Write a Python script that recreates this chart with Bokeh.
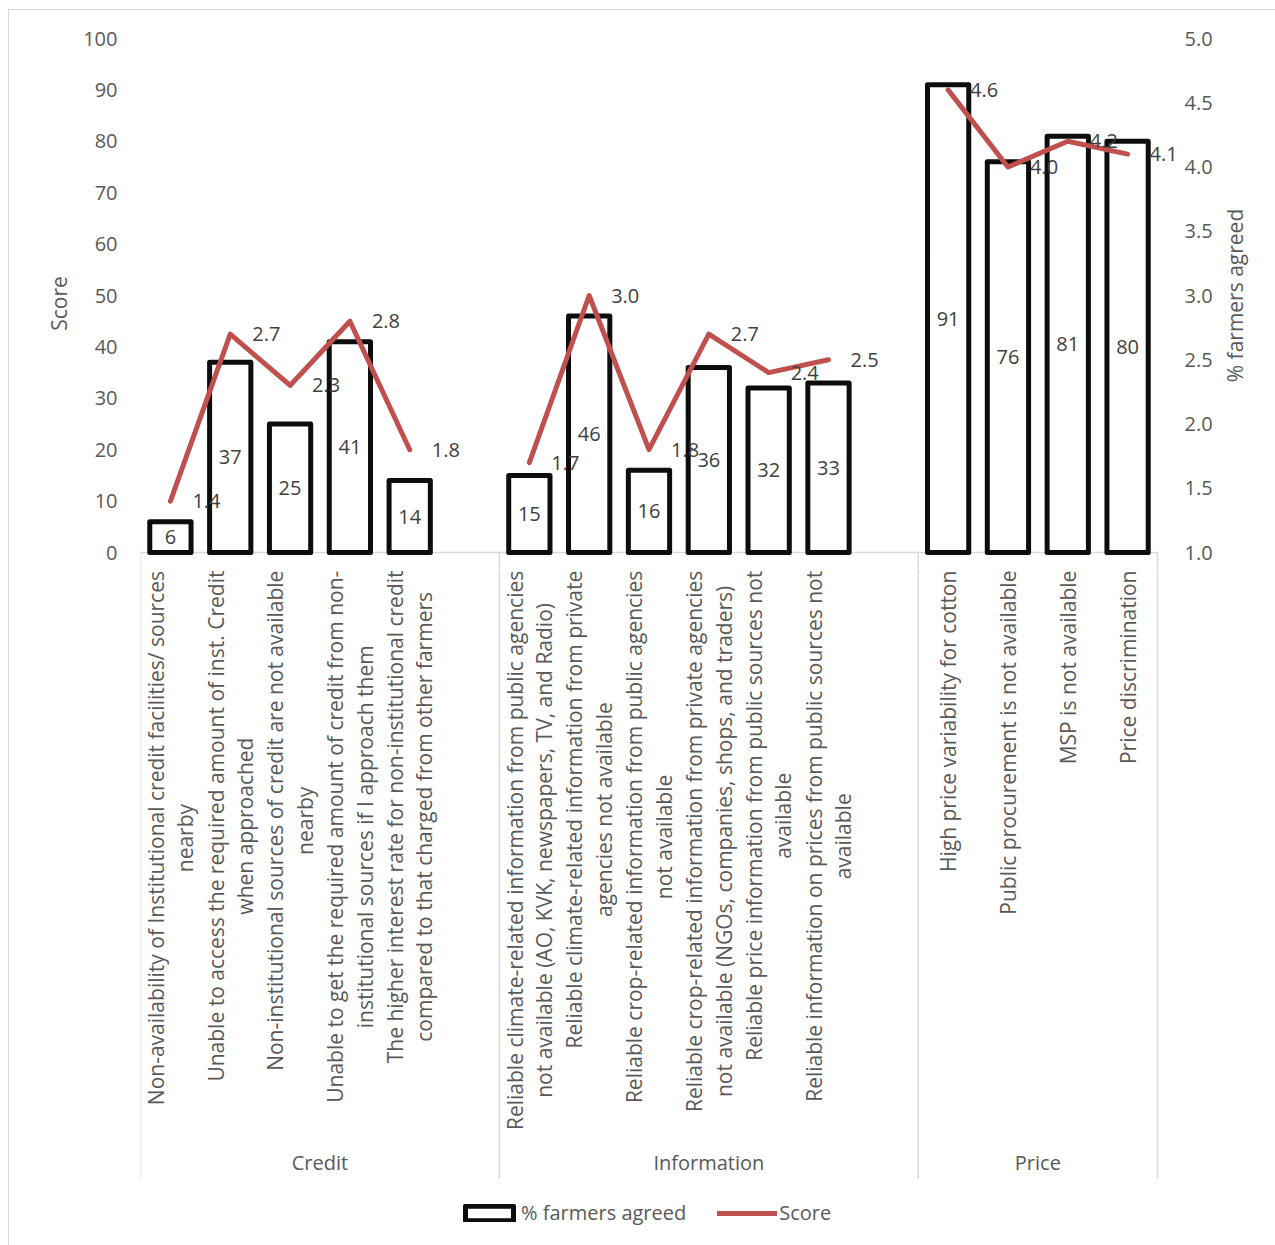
import math

from bokeh.core.properties import value
from bokeh.embed import file_html
from bokeh.layouts import column, row
from bokeh.models import (ColumnDataSource, FixedTicker, Legend, LegendItem,
                          LinearAxis, NumeralTickFormatter, Range1d)
from bokeh.plotting import figure
from bokeh.resources import INLINE

# ---------------------------------------------------------------- data
groups = ["Credit", "Information", "Price"]

credit_items = [
    "Non-availability of Institutional credit facilities/ sources\nnearby",
    "Unable to access the required amount of inst. Credit\nwhen approached",
    "Non-institutional sources of credit are not available\nnearby",
    "Unable to get the required amount of credit from non-\ninstitutional sources if I approach them",
    "The higher interest rate for non-institutional credit\ncompared to that charged from other farmers",
]
info_items = [
    "Reliable climate-related information from public agencies\nnot available (AO, KVK, newspapers, TV, and Radio)",
    "Reliable climate-related information from private\nagencies not available",
    "Reliable crop-related information from public agencies\nnot available",
    "Reliable crop-related information from private agencies\nnot available (NGOs, companies, shops, and traders)",
    "Reliable price information from public sources not\navailable",
    "Reliable information on prices from public sources not\navailable",
]
price_items = [
    "High price variability for cotton",
    "Public procurement is not available",
    "MSP is not available",
    "Price discrimination",
]

credit_agreed = [6, 37, 25, 41, 14]
info_agreed = [15, 46, 16, 36, 32, 33]
price_agreed = [91, 76, 81, 80]

credit_score = [1.4, 2.7, 2.3, 2.8, 1.8]
info_score = [1.7, 3.0, 1.8, 2.7, 2.4, 2.5]
price_score = [4.6, 4.0, 4.2, 4.1]

left_ticks = [0, 10, 20, 30, 40, 50, 60, 70, 80, 90, 100]
right_ticks = [1.0, 1.5, 2.0, 2.5, 3.0, 3.5, 4.0, 4.5, 5.0]

left_title = "Score"
right_title = "% farmers agreed"

# ---------------------------------------------------------------- layout
W = 1266                    # canvas width (page minus chart-area border offset)
W_TITLE = 55                # strip holding the right-hand axis title
H_TOP, H_BOT = 558, 677     # chart panel / category-label panel heights
LEFT, RIGHT, TOP = 131, 99, 28
SLOT_PX = 1017 / 17.0       # pixel width of one category slot
EXTRA_RIGHT_PX = 19         # gap between last slot and the right axis
PX = 514 / 100.0            # pixels per left-axis unit
Y_START = 100 - (H_TOP - TOP) / PX

GREY_TXT = "#595959"
DARK_TXT = "#404040"
RULE = "#D9D9D9"
BAR_LINE = "#0D0D0D"
RED = "#C0504D"
FONT = "Open Sans"
CAT_SIZE = 21

# slot positions: one empty slot between consecutive groups
item_lists = [credit_items, info_items, price_items]
agreed_lists = [credit_agreed, info_agreed, price_agreed]
score_lists = [credit_score, info_score, price_score]

xs, labels, agreed, score = [], [], [], []
line_x, line_y = [], []
group_bounds = []
slot = 0
for gi, items in enumerate(item_lists):
    start = slot
    for lab, a, s in zip(items, agreed_lists[gi], score_lists[gi]):
        xs.append(slot + 0.5)
        labels.append(lab)
        agreed.append(a)
        score.append(s)
        line_x.append(slot + 0.5)
        line_y.append(s)
        slot += 1
    if gi < len(item_lists) - 1:
        line_x.append(slot + 0.5)
        line_y.append(float("nan"))
        slot += 1
    group_bounds.append((start, slot))
N_SLOTS = slot
sep_x = [group_bounds[0][0]] + [b[1] for b in group_bounds]

# rough Open Sans advance widths (em) for centring wrapped labels
_W = {' ': 0.26, 'a': 0.556, 'b': 0.613, 'c': 0.476, 'd': 0.613, 'e': 0.561, 'f': 0.339,
      'g': 0.548, 'h': 0.614, 'i': 0.253, 'j': 0.253, 'k': 0.525, 'l': 0.253, 'm': 0.93,
      'n': 0.614, 'o': 0.604, 'p': 0.613, 'q': 0.613, 'r': 0.408, 's': 0.477, 't': 0.353,
      'u': 0.614, 'v': 0.501, 'w': 0.778, 'x': 0.524, 'y': 0.502, 'z': 0.477, '-': 0.322,
      '.': 0.266, ',': 0.245, '/': 0.365, '(': 0.296, ')': 0.296, 'I': 0.323, 'M': 0.905,
      'O': 0.78, 'N': 0.76, 'G': 0.72, 'K': 0.6, 'V': 0.6, 'T': 0.55, 'S': 0.55, 'R': 0.62,
      'P': 0.6, 'A': 0.633, 'C': 0.631, 'U': 0.73, 'H': 0.741, 'D': 0.725, 'E': 0.556}


def text_len(s, size=CAT_SIZE):
    return max(sum(_W.get(ch, 0.62) for ch in line) for line in s.split("\n")) * size


x_range = Range1d(0, N_SLOTS + EXTRA_RIGHT_PX / SLOT_PX)
y_range = Range1d(Y_START, 100)

# ---------------------------------------------------------------- chart panel
p = figure(width=W - W_TITLE, height=H_TOP, output_backend="svg", toolbar_location=None,
           x_range=x_range, y_range=y_range, x_axis_location=None,
           min_border_left=LEFT, min_border_right=RIGHT - W_TITLE, min_border_top=TOP,
           min_border_bottom=0, background_fill_color="white",
           border_fill_color="white", outline_line_color=None)
p.grid.visible = False
p.extra_y_ranges = {"score": Range1d(1 + Y_START * 0.04, 5)}

ax = p.yaxis[0]
ax.ticker = FixedTicker(ticks=left_ticks)
ax.formatter = NumeralTickFormatter(format="0")
ax.major_label_standoff = 17
ax.axis_label = left_title
ax.axis_label_standoff = 7

rax = LinearAxis(y_range_name="score", ticker=FixedTicker(ticks=right_ticks),
                 formatter=NumeralTickFormatter(format="0.0"))
rax.major_label_standoff = 2
p.add_layout(rax, "right")

for a in (ax, rax):
    a.axis_line_color = None
    a.major_tick_line_color = None
    a.minor_tick_line_color = None
    a.major_label_text_font = FONT
    a.major_label_text_font_size = "20px"
    a.major_label_text_color = GREY_TXT
    a.axis_label_text_font = FONT
    a.axis_label_text_font_size = "21px"
    a.axis_label_text_font_style = "normal"
    a.axis_label_text_color = GREY_TXT

# category axis line and the top of the group separators
p.segment(x0=[0], y0=[0], x1=[N_SLOTS], y1=[0], line_color=RULE, line_width=1.5)
p.segment(x0=sep_x, y0=[0] * len(sep_x), x1=sep_x, y1=[Y_START] * len(sep_x),
          line_color=RULE, line_width=1.5)

src = ColumnDataSource(dict(
    x=xs, agreed=agreed, score=score, mid=[a / 2 for a in agreed],
    agreed_txt=[str(a) for a in agreed], score_txt=[f"{s:.1f}" for s in score],
))

bar_style = dict(fill_color="white", line_color=BAR_LINE, line_width=5, line_join="round")
line_style = dict(line_color=RED, line_width=5, line_join="round", line_cap="round")

p.vbar(x="x", top="agreed", bottom=0, width=0.69, source=src, **bar_style)
p.line(x=line_x, y=line_y, y_range_name="score", **line_style)

p.text(x="x", y="mid", text="agreed_txt", source=src, text_align="center",
       text_baseline="middle", text_font=value(FONT), text_font_size=value("20px"),
       text_color=DARK_TXT)
p.text(x="x", y="score", text="score_txt", source=src, y_range_name="score",
       x_offset=22, text_align="left", text_baseline="middle", text_font=value(FONT),
       text_font_size=value("20px"), text_color=DARK_TXT)

# right-hand axis title, reading bottom to top
r = figure(width=W_TITLE, height=H_TOP, output_backend="svg", toolbar_location=None,
           x_range=Range1d(0, W_TITLE), y_range=y_range, x_axis_location=None,
           y_axis_location=None, min_border_left=0, min_border_right=0,
           min_border_top=TOP, min_border_bottom=0, background_fill_color="white",
           border_fill_color="white", outline_line_color=None)
r.grid.visible = False
r.text(x=[14], y=[(left_ticks[0] + left_ticks[-1]) / 2], text=[right_title],
       angle=math.pi / 2, text_align="center", text_baseline="middle",
       text_font=value(FONT), text_font_size=value("21px"), text_color=GREY_TXT)

# ---------------------------------------------------------------- category panel
# y runs downward in pixels from the top of this panel
q = figure(width=W, height=H_BOT, output_backend="svg", toolbar_location=None,
           x_range=x_range, y_range=Range1d(H_BOT, 0), x_axis_location=None,
           y_axis_location=None, min_border_left=LEFT, min_border_right=RIGHT,
           min_border_top=0, min_border_bottom=0, background_fill_color="white",
           border_fill_color="white", outline_line_color=None)
q.grid.visible = False

q.segment(x0=sep_x, y0=[0] * len(sep_x), x1=sep_x, y1=[610] * len(sep_x),
          line_color=RULE, line_width=1.5)

cat_src = ColumnDataSource(dict(x=xs, label=labels,
                                y=[2 + text_len(t) / 2 for t in labels]))
q.text(x="x", y="y", text="label", source=cat_src, angle=math.pi / 2,
       text_align="center", text_baseline="middle", text_line_height=1.05,
       text_font=value(FONT), text_font_size=value(f"{CAT_SIZE}px"), text_color=GREY_TXT)

q.text(x=[(a + b) / 2 for a, b in group_bounds], y=[594] * len(groups), text=groups,
       text_align="center", text_baseline="middle", text_font=value(FONT),
       text_font_size=value("20px"), text_color=GREY_TXT)

# legend swatches take their style from these (undrawn) series renderers
nan = float("nan")
leg_bar = q.vbar(x=[nan], top=[nan], width=0.69, **bar_style)
leg_line = q.line(x=[nan, nan], y=[nan, nan], **line_style)
legend = Legend(items=[LegendItem(label="% farmers agreed", renderers=[leg_bar]),
                       LegendItem(label="Score", renderers=[leg_line])],
                location=(319, 19), orientation="horizontal", glyph_width=60,
                glyph_height=18, label_height=18, label_standoff=2, spacing=31,
                padding=0, margin=0, border_line_color=None, background_fill_alpha=0,
                label_text_font=FONT, label_text_font_size="20px",
                label_text_color=GREY_TXT)
q.add_layout(legend)

page = column(row(p, r, spacing=0), q, spacing=0)
page.styles = {"margin-left": "8px", "margin-top": "9px",
               "border-left": f"1px solid {RULE}", "border-top": f"1px solid {RULE}"}

open("out.html", "w").write(file_html(page, INLINE))
